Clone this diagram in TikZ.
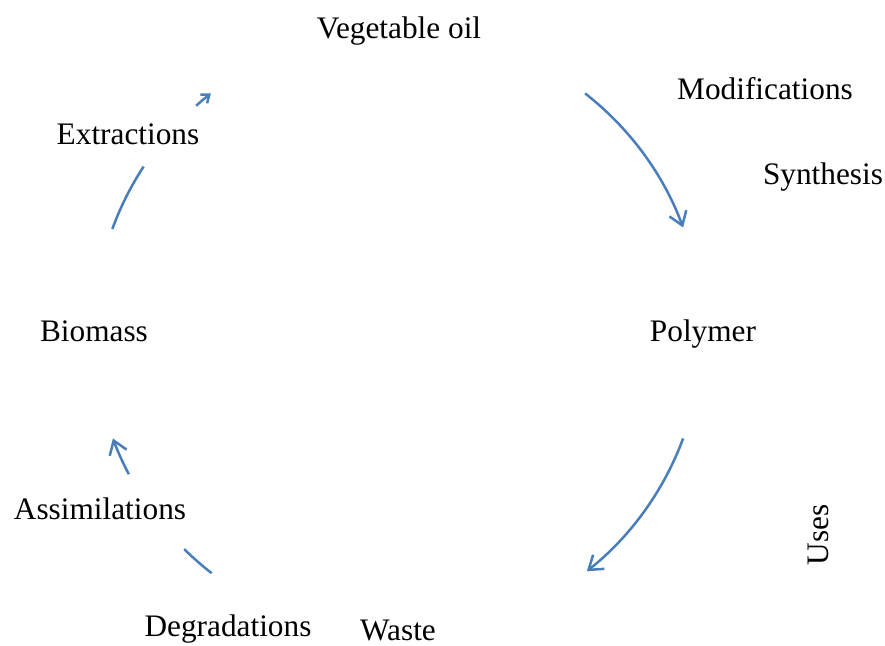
\documentclass[tikz,border=0pt]{standalone}
\usepackage{fontspec}
\setmainfont{Liberation Serif}
\usetikzlibrary{arrows.meta}
\definecolor{arcblue}{RGB}{74,126,187}
\tikzset{
  lbl/.style={inner sep=0pt, anchor=base, font=\fontsize{31.3}{36}\selectfont},
  arc line/.style={draw=arcblue, line width=2.5pt},
  arc arrow/.style={arc line, -{Straight Barb[length=13pt,width=18pt,line width=2.5pt]}},
  small arrow/.style={arc line, -{Straight Barb[length=7pt,width=11pt,line width=2.5pt]}}
}
\begin{document}
\begin{tikzpicture}[x=1pt,y=1pt]
\useasboundingbox (0,0) rectangle (885,645);
% cycle centre
\coordinate (c) at (398,312);
% labels (image y -> 645 - y)
\node[lbl] (veg)  at (399,645-39) {Vegetable oil};
\node[lbl] (mod)  at (765,645-100) {Modifications};
\node[lbl] (syn)  at (823,645-185) {Synthesis};
\node[lbl] (pol)  at (703,645-342) {Polymer};
\node[lbl, anchor=center, rotate=90] (uses) at (818,645-535) {Uses};
\node[lbl] (waste) at (398,645-640) {Waste};
\node[lbl] (deg)  at (228,645-636) {Degradations};
\node[lbl] (ass)  at (100,645-519) {Assimilations};
\node[lbl] (bio)  at (94,645-342) {Biomass};
\node[lbl] (ext)  at (128,645-145) {Extractions};
% arc pieces of the cycle
\draw[arc arrow] (c) ++(52:304) arc[start angle=52, end angle=20.3, radius=304];
\draw[arc arrow] (c) ++(-20.3:304) arc[start angle=-20.3, end angle=-51.6, radius=304];
\draw[arc line] (c) ++(225.3:304) arc[start angle=225.3, end angle=232.2, radius=304];
\draw[arc arrow] (c) ++(207.7:304) arc[start angle=207.7, end angle=200.3, radius=304];
\draw[arc line] (c) ++(160:304) arc[start angle=160, end angle=146.8, radius=304];
\draw[small arrow] (c) ++(131.6:304) arc[start angle=131.6, end angle=128, radius=304];
\end{tikzpicture}
\end{document}
